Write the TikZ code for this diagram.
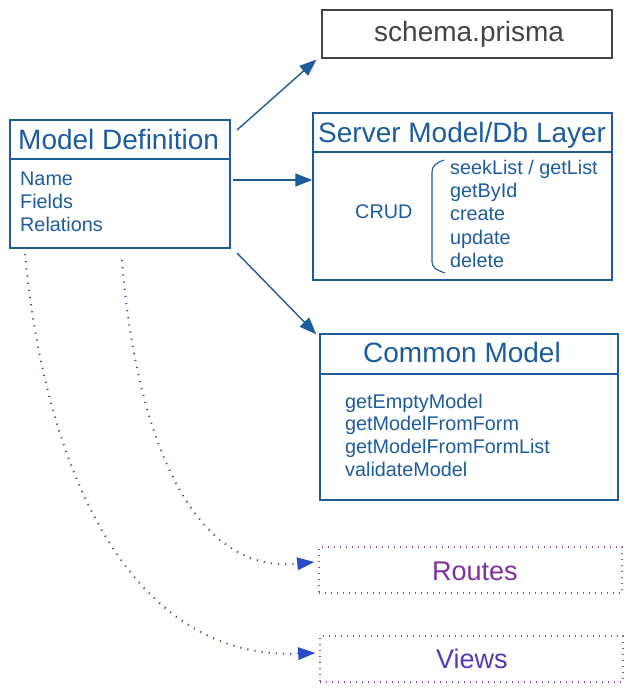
\documentclass[tikz,border=0pt]{standalone}
\usepackage{fontspec}
\setmainfont{Liberation Sans}
\usetikzlibrary{arrows.meta}
\definecolor{mblue}{HTML}{1D5C9C}
\definecolor{agray}{HTML}{444444}
\definecolor{rpurple}{HTML}{7E2F9C}
\definecolor{vpurple}{HTML}{5738B4}
\definecolor{dpurple}{HTML}{8A4FAA}
\definecolor{cgray}{HTML}{4F5288}
\definecolor{tipblue}{HTML}{2A4CC6}
\begin{document}
\begin{tikzpicture}[x=1pt,y=-1pt,
  box/.style={draw=mblue,line width=1.5pt,rectangle,inner sep=0pt},
  dbox/.style={draw=dpurple,line width=1.6pt,dash pattern=on 1.2pt off 4.8pt,rectangle,inner sep=0pt},
  title/.style={anchor=base west,inner sep=0pt,text=mblue,font=\fontsize{28}{32}\selectfont},
  item/.style={anchor=base west,inner sep=0pt,text=mblue,font=\fontsize{19.8}{23}\selectfont},
  arr/.style={draw=mblue,line width=1.4pt,-{Triangle[length=17pt,width=13pt]}},
  darr/.style={draw=cgray,line width=2pt,dash pattern=on 1.2pt off 6pt,-{Triangle[length=17pt,width=13pt,fill=tipblue,color=tipblue,line width=0pt]}}
]
\useasboundingbox (0,0) rectangle (633,692);
% boxes
\node[box,minimum width=220pt,minimum height=128pt] (md) at (120,184) {};
\draw[mblue,line width=1.5pt] (10,159) -- (230,159);
\node[box,draw=agray,line width=1.2pt,minimum width=290pt,minimum height=48pt] (schema) at (467,34) {};
\node[box,minimum width=299pt,minimum height=167pt] (srv) at (462.5,196.5) {};
\draw[mblue,line width=1.5pt] (313,152) -- (612,152);
\node[box,minimum width=298pt,minimum height=166pt] (cm) at (469,417) {};
\draw[mblue,line width=1.5pt] (320,374) -- (618,374);
\node[dbox,minimum width=303pt,minimum height=46pt] (routes) at (470.5,570) {};
\node[dbox,minimum width=303pt,minimum height=46pt] (views) at (471.5,659) {};
% texts
\node[title] (mdt) at (18,150) {Model Definition};
\node[item] (n1) at (20,186) {Name};
\node[item] (n2) at (20,209) {Fields};
\node[item] (n3) at (20,232) {Relations};
\node[title,text=agray] (sct) at (374,42) {schema.prisma};
\node[title] (srvt) at (318,143) {Server Model/Db Layer};
\node[item] (crud) at (355,219) {CRUD};
\node[item] (s1) at (450,175) {seekList / getList};
\node[item] (s2) at (450,198) {getById};
\node[item] (s3) at (450,221) {create};
\node[item] (s4) at (450,244) {update};
\node[item] (s5) at (450,267) {delete};
\draw[mblue,line width=1.1pt] (444,160) .. controls (436,163) and (432,166) .. (432,172) -- (432,262) .. controls (432,267) and (436,270) .. (445,273);
\node[title] (cmt) at (363,362) {Common Model};
\node[item] (c1) at (345,408) {getEmptyModel};
\node[item] (c2) at (345,430) {getModelFromForm};
\node[item] (c3) at (345,453) {getModelFromFormList};
\node[item] (c4) at (345,476) {validateModel};
\node[title,text=rpurple,font=\fontsize{27}{30}\selectfont] (rt) at (432,580) {Routes};
\node[title,text=vpurple,font=\fontsize{27}{30}\selectfont] (vt) at (436,668) {Views};
% connectors
\coordinate (t1) at (237,130);
\coordinate (t2) at (233,180);
\coordinate (t3) at (237,253);
\coordinate (t4) at (122,260);
\coordinate (t5) at (25,254);
\draw[arr] (t1) -- ([xshift=-5pt,yshift=-1pt]schema.south west);
\draw[arr] (t2) -- (t2 -| srv.west);
\draw[arr] (t3) -- ([xshift=-3pt,yshift=-1pt]cm.north west);
\draw[darr] (t4) .. controls (135,430) and (190,575) .. ([xshift=-4pt,yshift=8pt]routes.west);
\draw[darr] (t5) .. controls (45,470) and (130,660) .. ([xshift=-4pt,yshift=6pt]views.west);
\end{tikzpicture}
\end{document}
